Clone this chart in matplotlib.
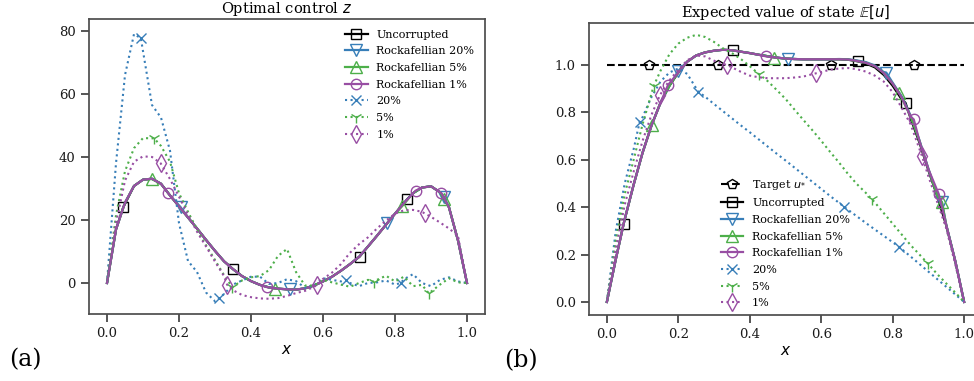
import numpy as np
import matplotlib
matplotlib.use("Agg")
import matplotlib.pyplot as plt

# ---------------- data ----------------
x_grid = np.linspace(0.0, 1.0, 41)

# Panel (a): optimal control z
z_uncorrupted = [0, 17, 25.5, 30.8, 32.8, 33.1, 31.5, 27.8, 24.3, 20.8, 17.3, 13.7, 10.2, 6.9,
                 4.4, 2.2, 0.6, -0.6, -1.4, -1.8, -2.0, -2.1, -1.7, -0.8, 0.5, 2.0, 3.9, 6.0,
                 8.3, 11.6, 15.0, 18.5, 22.0, 25.4, 28.5, 30.3, 30.7, 28.8, 24.0, 13.5, 0]
z_rock20 = list(z_uncorrupted)
z_rock5 = list(z_uncorrupted)
z_rock1 = list(z_uncorrupted)
z_20 = [0, 38, 66, 79, 73, 56.5, 52.5, 42, 19, 7, 3.5, -3, -5.8, -3.5, -0.5, 0.8, 2, 2, -0.3, 0,
        1.2, 0.6, -1.5, -0.8, 1.5, 1, 0.5, 0, -1, 0, 0.2, 0.8, -0.5, 1.2, 2.8, 0, -1, 1, 1.8, 0.5, 0]
z_5 = [0, 21.5, 35.5, 42.8, 46, 46.2, 43.5, 38.5, 28.5, 22.6, 17, 12, 7.3, 2.5, -1.3, 0.8, 1.8,
       2.2, 4.1, 8.6, 10.8, 3.5, -0.8, -0.8, 1, 0.2, -0.5, -1.2, 0, 1, 1, 2.3, 0.5, 2, -1, -0.6,
       -3, -0.5, 1.5, 0.2, 0]
z_1 = [0, 19, 32.5, 38.5, 40.2, 40.0, 37.8, 33, 27.4, 21.7, 16.3, 11.6, 6.8, 2.2, -2.3, -3.8,
       -4.5, -4.9, -5, -4.8, -4.1, -3.2, -2.5, -1.2, 1.3, 3.3, 6, 9.6, 12.3, 14.5, 17.3, 19.8,
       22, 23.1, 23.2, 22.6, 21, 19.2, 17.3, 15, 0]

# marker locations (x, value)
zm_uncorrupted = ([0.045, 0.35, 0.702, 0.834], [24.0, 4.4, 8.4, 26.6])
zm_rock20 = ([0.205, 0.508, 0.778, 0.937], [24.0, -2.0, 19.0, 27.2])
zm_rock5 = ([0.124, 0.467, 0.82, 0.936], [33.0, -1.8, 24.4, 26.8])
zm_rock1 = ([0.17, 0.444, 0.857, 0.929], [28.5, -1.3, 29.3, 28.5])
zm_20 = ([0.094, 0.311, 0.663, 0.816], [77.7, -4.9, 1.0, 0.0])
zm_5 = ([0.131, 0.348, 0.742, 0.894], [45.9, -1.3, 0.4, -3.3])
zm_1 = ([0.149, 0.334, 0.584, 0.882], [38.0, -0.6, -0.6, 22.1])

# Panel (b): expected value of state E[u]
u_target_x = [0.0, 0.117, 0.312, 0.626, 0.859, 1.0]
u_target = [1.0, 1.0, 1.0, 1.0, 1.0, 1.0]
u_uncorrupted = [0, 0.18, 0.35, 0.495, 0.63, 0.745, 0.84, 0.912, 0.968, 1.014, 1.04, 1.053, 1.06,
                 1.064, 1.062, 1.056, 1.05, 1.043, 1.037, 1.031, 1.027, 1.025, 1.024, 1.024, 1.024,
                 1.024, 1.024, 1.022, 1.015, 1.006, 0.99, 0.958, 0.912, 0.855, 0.775, 0.672,
                 0.555, 0.445, 0.322, 0.173, 0]
u_rock20 = [0, 0.18, 0.35, 0.495, 0.63, 0.745, 0.84, 0.912, 0.968, 1.014, 1.04, 1.053, 1.06,
            1.064, 1.062, 1.056, 1.05, 1.043, 1.037, 1.031, 1.027, 1.025, 1.024, 1.024, 1.024,
            1.024, 1.025, 1.024, 1.019, 1.012, 0.998, 0.97, 0.925, 0.868, 0.787, 0.682,
            0.562, 0.45, 0.325, 0.175, 0]
u_rock5 = [0, 0.18, 0.35, 0.495, 0.63, 0.745, 0.84, 0.912, 0.968, 1.014, 1.04, 1.053, 1.06,
           1.064, 1.062, 1.056, 1.05, 1.043, 1.037, 1.031, 1.027, 1.025, 1.024, 1.024, 1.024,
           1.024, 1.024, 1.023, 1.017, 1.009, 0.995, 0.966, 0.921, 0.864, 0.783, 0.679,
           0.56, 0.448, 0.324, 0.174, 0]
u_rock1 = [0, 0.18, 0.35, 0.495, 0.63, 0.745, 0.84, 0.912, 0.968, 1.014, 1.04, 1.053, 1.06,
           1.064, 1.062, 1.056, 1.05, 1.043, 1.037, 1.031, 1.027, 1.025, 1.024, 1.024, 1.024,
           1.024, 1.024, 1.023, 1.017, 1.009, 0.995, 0.966, 0.921, 0.864, 0.783, 0.679,
           0.56, 0.448, 0.324, 0.174, 0]
u_20 = [0, 0.30, 0.50, 0.645, 0.78, 0.865, 0.93, 0.968, 0.985, 0.962, 0.905, 0.866, 0.835,
        0.805, 0.775, 0.745, 0.716, 0.686, 0.656, 0.626, 0.597, 0.567, 0.537, 0.507, 0.477,
        0.447, 0.418, 0.389, 0.361, 0.333, 0.306, 0.279, 0.252, 0.224, 0.192, 0.16, 0.128,
        0.096, 0.064, 0.032, 0]
u_5 = [0, 0.26, 0.455, 0.60, 0.75, 0.88, 0.975, 1.045, 1.09, 1.115, 1.127, 1.118, 1.097, 1.07,
       1.05, 1.025, 0.995, 0.962, 0.932, 0.895, 0.857, 0.812, 0.768, 0.725, 0.68, 0.633, 0.588,
       0.54, 0.497, 0.46, 0.42, 0.375, 0.33, 0.285, 0.24, 0.2, 0.16, 0.117, 0.078, 0.04, 0]
u_1 = [0, 0.225, 0.41, 0.55, 0.68, 0.79, 0.875, 0.935, 0.98, 1.02, 1.04, 1.036, 1.018, 1.004,
       0.99, 0.971, 0.955, 0.948, 0.944, 0.944, 0.944, 0.947, 0.951, 0.961, 0.97, 0.98, 0.985,
       0.987, 0.982, 0.972, 0.955, 0.93, 0.885, 0.82, 0.75, 0.645, 0.53, 0.42, 0.31, 0.16, 0]

um_uncorrupted = ([0.047, 0.352, 0.703, 0.836], [0.33, 1.062, 1.015, 0.84])
um_rock20 = ([0.2, 0.507, 0.782, 0.938], [0.975, 1.027, 0.968, 0.42])
um_rock5 = ([0.126, 0.469, 0.819, 0.938], [0.748, 1.031, 0.88, 0.42])
um_rock1 = ([0.171, 0.446, 0.859, 0.929], [0.915, 1.036, 0.77, 0.455])
um_20 = ([0.092, 0.256, 0.663, 0.819], [0.761, 0.887, 0.402, 0.231])
um_5 = ([0.131, 0.425, 0.742, 0.898], [0.911, 0.962, 0.433, 0.163])
um_1 = ([0.149, 0.336, 0.586, 0.882], [0.874, 1.0, 0.965, 0.616])

labels = ["Uncorrupted", "Rockafellian 20%", "Rockafellian 5%", "Rockafellian 1%",
          "20%", "5%", "1%"]

# ---------------- style ----------------
plt.rcParams.update({
    "font.family": ["DejaVu Serif", "DejaVu Sans"],
    "mathtext.fontset": "dejavusans",
    "axes.edgecolor": "0.3",
    "axes.linewidth": 1.25,
    "xtick.major.size": 6,
    "ytick.major.size": 6,
    "xtick.major.width": 1.25,
    "ytick.major.width": 1.25,
    "xtick.color": "0.25",
    "ytick.color": "0.25",
    "xtick.labelcolor": "0.1",
    "ytick.labelcolor": "0.1",
    "xtick.labelsize": 9.5,
    "ytick.labelsize": 9.5,
})

C_BLACK = "black"
C_BLUE = "#377eb8"
C_GREEN = "#4daf4a"
C_PURPLE = "#984ea3"

styles = [
    dict(color=C_BLACK, ls="-", marker="s", lw=1.6, ms=7),
    dict(color=C_BLUE, ls="-", marker="v", lw=1.6, ms=8),
    dict(color=C_GREEN, ls="-", marker="^", lw=1.6, ms=8),
    dict(color=C_PURPLE, ls="-", marker="o", lw=1.6, ms=7.5),
    dict(color=C_BLUE, ls=":", marker="x", lw=1.5, ms=7.5),
    dict(color=C_GREEN, ls=":", marker="1", lw=1.5, ms=8.5),
    dict(color=C_PURPLE, ls=":", marker="d", lw=1.5, ms=9),
]


def with_markers(y, marks):
    mx, my = np.asarray(marks[0], float), np.asarray(marks[1], float)
    gx, gy = x_grid, np.asarray(y, float)
    keep = np.ones(len(gx), bool)
    for m in mx:
        keep &= np.abs(gx - m) > 0.007
    xs = np.concatenate([gx[keep], mx])
    ys = np.concatenate([gy[keep], my])
    tag = np.concatenate([np.zeros(keep.sum(), bool), np.ones(len(mx), bool)])
    order = np.argsort(xs, kind="stable")
    xs, ys, tag = xs[order], ys[order], tag[order]
    return xs, ys, list(np.where(tag)[0])


def draw(ax, series):
    handles = []
    for (y, marks), st, lab in zip(series, styles, labels):
        xs, ys, idx = with_markers(y, marks)
        h, = ax.plot(xs, ys, color=st["color"], ls=st["ls"], lw=st["lw"], marker=st["marker"],
                     markevery=idx, markersize=st["ms"], markerfacecolor="none",
                     markeredgecolor=st["color"], markeredgewidth=1.0, label=lab)
        handles.append(h)
    return handles


fig = plt.figure(figsize=(9.74, 3.81), dpi=100)
ax1 = fig.add_axes([89 / 974, 67 / 381, 396 / 974, 295 / 381])
ax2 = fig.add_axes([589 / 974, 66 / 381, 393 / 974, 292 / 381])

series_a = [(z_uncorrupted, zm_uncorrupted), (z_rock20, zm_rock20), (z_rock5, zm_rock5),
            (z_rock1, zm_rock1), (z_20, zm_20), (z_5, zm_5), (z_1, zm_1)]
series_b = [(u_uncorrupted, um_uncorrupted), (u_rock20, um_rock20), (u_rock5, um_rock5),
            (u_rock1, um_rock1), (u_20, um_20), (u_5, um_5), (u_1, um_1)]

ha = draw(ax1, series_a)
ht, = ax2.plot(u_target_x, u_target, color=C_BLACK, ls="--", lw=1.5, marker="p",
               markevery=[1, 2, 3, 4], markersize=7.5, markerfacecolor="none",
               markeredgecolor=C_BLACK, markeredgewidth=1.0, label="Target $u_{*}$")
hb = draw(ax2, series_b)

for ax in (ax1, ax2):
    ax.set_xlim(-0.05, 1.05)
    ax.set_xticks([0.0, 0.2, 0.4, 0.6, 0.8, 1.0])
    ax.set_xlabel("$x$", fontsize=11, labelpad=2)

ax1.set_ylim(-9.84, 83.8)
ax1.set_yticks([0, 20, 40, 60, 80])
ax2.set_ylim(-0.055, 1.177)
ax2.set_yticks([0.0, 0.2, 0.4, 0.6, 0.8, 1.0])

ax1.set_title("Optimal control $z$", fontsize=10.5, pad=4)
ax2.set_title("Expected value of state $\\mathbb{E}[u]$", fontsize=10.5, pad=4)

leg_kw = dict(frameon=False, fontsize=8, labelspacing=0.6, handlelength=2.0,
              handletextpad=0.8)
ax1.legend(handles=ha, loc="upper right", borderaxespad=0.55, **leg_kw)
ax2.legend(handles=[ht] + hb, loc="lower center", bbox_to_anchor=(0.5, 0.0),
           borderaxespad=0.2, **leg_kw)

fig.text(9 / 974, 1 - 360 / 381, "(a)", fontsize=17, va="center", ha="left")
fig.text(504 / 974, 1 - 361 / 381, "(b)", fontsize=17, va="center", ha="left")

fig.savefig("out.png", dpi=100)
